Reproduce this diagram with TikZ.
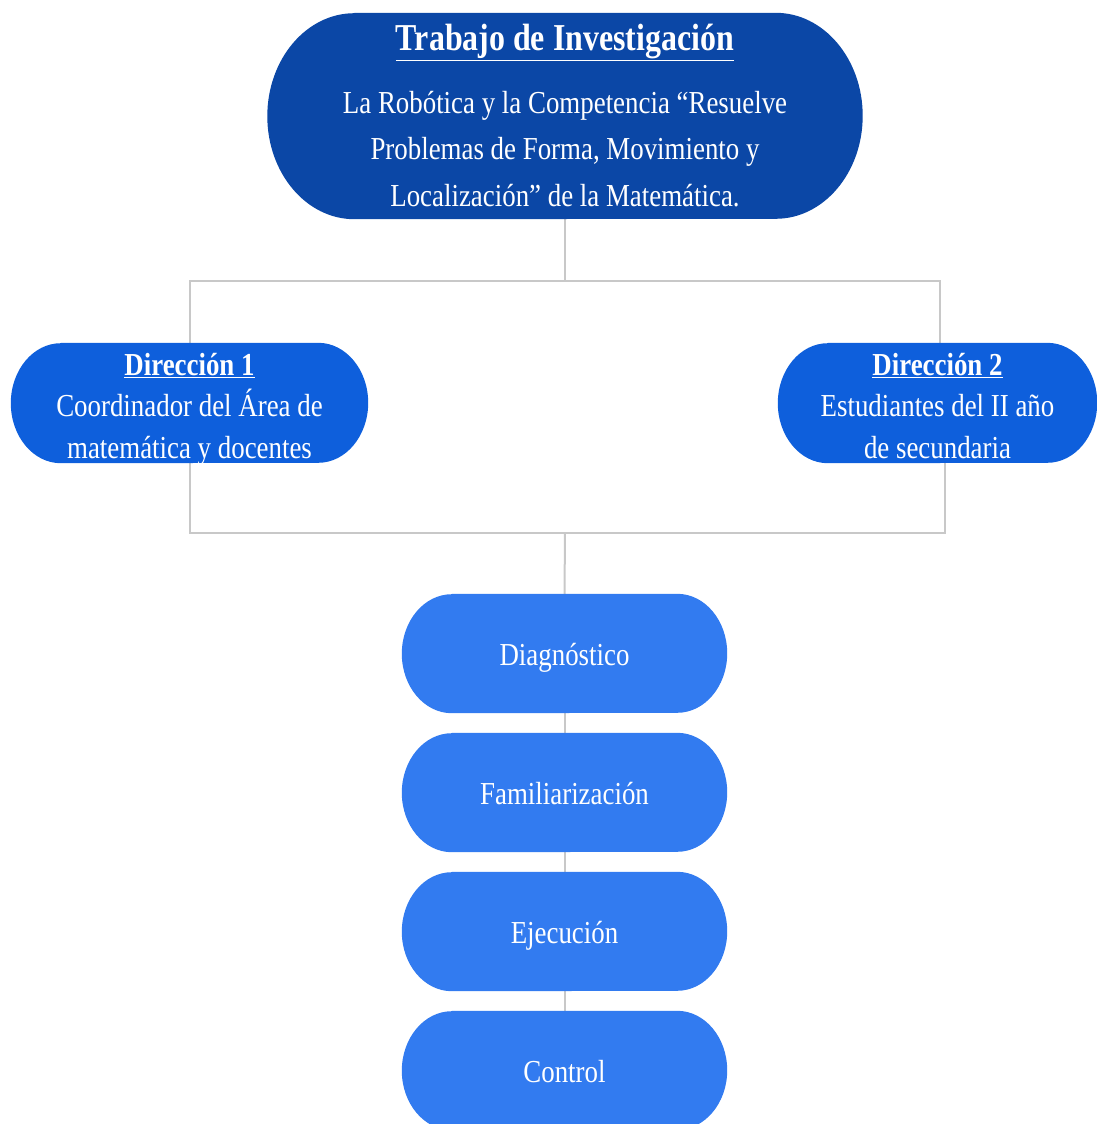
\documentclass[tikz,border=0pt]{standalone}
\usepackage{fontspec}
\setmainfont{Liberation Serif}[FakeStretch=0.84]
\usetikzlibrary{backgrounds,calc}
\definecolor{topblue}{HTML}{0B47A6}
\definecolor{dirblue}{HTML}{0E5FDC}
\definecolor{stepblue}{HTML}{327BF0}
\definecolor{connGray}{HTML}{C8C8C8}
\tikzset{
  conn/.style={draw=connGray, line width=2pt},
  boxtext/.style={text=white, align=center, inner sep=0pt, shape=rectangle},
  toptext/.style={boxtext, font=\fontsize{32}{46.5}\selectfont},
  dirtext/.style={boxtext, font=\fontsize{32}{41.5}\selectfont},
  steptext/.style={boxtext, font=\fontsize{32}{40}\selectfont, minimum width=325pt, minimum height=119pt,
    text height=30pt, text depth=6pt},
}
\newcommand\pillfill[4]{%
  \fill[#2] ([xshift=#3]#1.north west) -- ([xshift=-#3]#1.north east)
    arc[start angle=90, end angle=-90, x radius=#3, y radius=#4]
    -- ([xshift=#3]#1.south west)
    arc[start angle=270, end angle=90, x radius=#3, y radius=#4] -- cycle;}
\newcommand\toph[1]{\rule{0pt}{#1}}
\newcommand\botd[1]{\rule[-#1]{0pt}{0pt}}
\begin{document}
\begin{tikzpicture}[x=1pt,y=-1pt]
\useasboundingbox (0,0) rectangle (1097,1124);
\node[toptext, minimum width=595pt, minimum height=206pt] (top) at (565,116)
  {\toph{33pt}{\fontsize{38}{44}\selectfont\bfseries\underline{Trabajo de Investigación}}\\[16pt]
   La Robótica y la Competencia “Resuelve\\
   Problemas de Forma, Movimiento y\\
   Localización” de la Matemática.\botd{8pt}};
\node[dirtext, minimum width=357pt, minimum height=120pt] (d1) at (189.5,403)
  {\toph{32pt}\smash{\bfseries\underline{Dirección 1}}\\ Coordinador del Área de\\ \smash{matemática y docentes}\botd{5pt}};
\node[dirtext, minimum width=319pt, minimum height=120pt] (d2) at (937.5,403)
  {\toph{32pt}\smash{\bfseries\underline{Dirección 2}}\\ Estudiantes del II año\\ \smash{de secundaria}\botd{5pt}};
\node[steptext] (s1) at (564.5,653.5) {Diagnóstico};
\node[steptext] (s2) at (564.5,792.5) {Familiarización};
\node[steptext] (s3) at (564.5,931.5) {Ejecución};
\node[steptext] (s4) at (564.5,1070.5) {Control};
\coordinate (j1) at (565,281);
\coordinate (j2) at (565,533);
\begin{pgfonlayer}{background}
  \draw[conn] (top.south) -- (j1);
  \draw[conn] (d1.north) |- (j1) -| ([xshift=2.5pt]d2.north);
  \draw[conn] (d1.south) |- (j2) -| ([xshift=7.5pt]d2.south);
  \draw[conn] (j2) -- (s1.north);
  \draw[conn] (s1.south) -- (s2.north);
  \draw[conn] (s2.south) -- (s3.north);
  \draw[conn] (s3.south) -- (s4.north);
  \pillfill{top}{topblue}{87pt}{103pt}
  \pillfill{d1}{dirblue}{50pt}{60pt}
  \pillfill{d2}{dirblue}{50pt}{60pt}
  \pillfill{s1}{stepblue}{50pt}{59.5pt}
  \pillfill{s2}{stepblue}{50pt}{59.5pt}
  \pillfill{s3}{stepblue}{50pt}{59.5pt}
  \pillfill{s4}{stepblue}{50pt}{59.5pt}
\end{pgfonlayer}
\end{tikzpicture}
\end{document}
